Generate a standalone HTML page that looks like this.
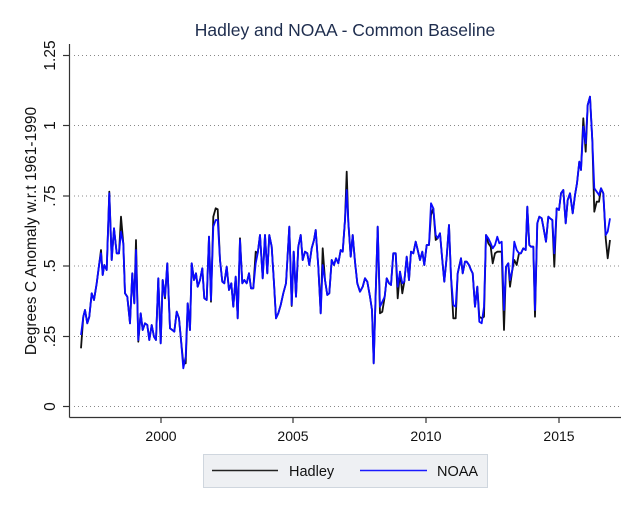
<!DOCTYPE html>
<html><head><meta charset="utf-8"><style>
html,body{margin:0;padding:0;background:#fff;}
svg{display:block;font-family:"Liberation Sans",sans-serif;}
</style></head><body>
<svg id="s" width="640" height="512" viewBox="0 0 640 512" xmlns="http://www.w3.org/2000/svg">
<rect width="640" height="512" fill="#fff"/>
<text x="345" y="36" text-anchor="middle" font-size="17.5" fill="#1e2d4e">Hadley and NOAA - Common Baseline</text>
<g stroke="#888" stroke-width="1" stroke-dasharray="1,3">
<line x1="74" x2="620" y1="55.5" y2="55.5"/>
<line x1="74" x2="620" y1="125.5" y2="125.5"/>
<line x1="74" x2="620" y1="196" y2="196"/>
<line x1="74" x2="620" y1="266" y2="266"/>
<line x1="74" x2="620" y1="336.5" y2="336.5"/>
<line x1="74" x2="620" y1="406.5" y2="406.5"/>
</g>
<g stroke="#333" stroke-width="1.2">
<line x1="69.5" x2="69.5" y1="44" y2="417.5"/>
<line x1="69.5" x2="621" y1="417.5" y2="417.5"/>
<line x1="63" x2="69.5" y1="55.5" y2="55.5"/>
<line x1="63" x2="69.5" y1="125.5" y2="125.5"/>
<line x1="63" x2="69.5" y1="196" y2="196"/>
<line x1="63" x2="69.5" y1="266" y2="266"/>
<line x1="63" x2="69.5" y1="336.5" y2="336.5"/>
<line x1="63" x2="69.5" y1="406.5" y2="406.5"/>
<line x1="161" x2="161" y1="417.5" y2="423"/>
<line x1="293" x2="293" y1="417.5" y2="423"/>
<line x1="426" x2="426" y1="417.5" y2="423"/>
<line x1="559" x2="559" y1="417.5" y2="423"/>
</g>
<g font-size="15.5" fill="#111" text-anchor="middle">
<text transform="translate(55,55.5) rotate(-90)">1.25</text>
<text transform="translate(55,125.5) rotate(-90)">1</text>
<text transform="translate(55,196) rotate(-90)">.75</text>
<text transform="translate(55,266) rotate(-90)">.5</text>
<text transform="translate(55,336.5) rotate(-90)">.25</text>
<text transform="translate(55,406.5) rotate(-90)">0</text>
<text transform="translate(36,231) rotate(-90)" font-size="15.5">Degrees C Anomaly w.r.t 1961-1990</text>
</g>
<g font-size="14" fill="#111" text-anchor="middle">
<text x="161" y="441">2000</text>
<text x="293" y="441">2005</text>
<text x="426" y="441">2010</text>
<text x="559" y="441">2015</text>
</g>
<polyline id="hb" fill="none" stroke="#111" stroke-width="1.8" stroke-linejoin="round"/>
<polyline id="nb" fill="none" stroke="#0a0aff" stroke-width="1.8" stroke-linejoin="round"/>
<rect x="203.5" y="454.5" width="284" height="33" fill="#eef0f3" stroke="#cfd6de"/>
<line x1="212" x2="278" y1="470.5" y2="470.5" stroke="#222" stroke-width="1.6"/>
<text x="289" y="476" font-size="14.5" fill="#111">Hadley</text>
<line x1="360" x2="427" y1="470.5" y2="470.5" stroke="#1a1aff" stroke-width="1.6"/>
<text x="437" y="476" font-size="14.5" fill="#111">NOAA</text>
</svg>
<script>
var segs=[
[70,150,[33,555,40,500,45,480,52,520,58,500,65,430,72,450,80,400,88,340,93,310,98,375,103,345,110,360,118,130,125,330,132,235,140,310,147,310,153,245,160,280,165,430,172,440,180,520,187,370,193,460,198,300,205,570,212,490,218,540,225,520,232,525,238,570,245,525,252,560,258,570,265,385,272,580,278,390,285,440,292,340,300,535,307,540,313,545,320,485,327,505,333,570,340,655,347,620,353,460,360,540,365,340,372,390,378,370,383,410,390,390,397,355,403,445,410,450,417,260,423,450,430,230,437,210,443,210,450,330,457,395,463,400,470,350,477,420,484,400,490,470,497,380,503,505,510,270,517,400,523,390,530,400,537,370,543,415,550,415,557,340,563,310,570,255],
{33:595,93:300,118:125,153:200,198:270,205:575,285:445,340:640,347:640,423:455,437:175,443:178,430:200,510:265,557:305}],
[260,150,[8,385,15,255,22,370,28,255,35,290,42,400,48,505,55,490,62,465,70,430,78,400,88,230,95,465,101,305,108,440,115,290,122,255,128,330,135,305,142,310,148,345,155,295,162,270,167,240,175,350,182,490,188,345,195,390,202,435,208,430,215,330,222,345,228,325,235,340,242,300,248,305,255,210,260,120,265,215,272,320,278,255,285,335,292,400,300,425,308,410,315,385,322,395,330,440,336,480,341,640,346,470,353,230,360,470,367,455,374,440,380,385,387,400,393,405,400,310,407,310,413,410,420,365,427,400,433,395,440,320,447,390,453,305,460,310,467,275,473,300,480,330,487,305,493,345,500,285,507,285,513,160,520,175,527,255,533,265,540,250,547,330,553,395,560,320,567,225,573,380,580,465,587,470,593,370],
{95:468,260:65,360:490,367:485,513:195,527:270,580:505,587:505,413:445,427:430,188:295}],
[440,80,[63,535,68,580,75,545,80,545,87,555,93,570,98,580,105,680,112,620,118,725,125,730,132,680,138,465,145,475,152,490,158,505,165,495,172,470,178,490,185,485,192,690,198,560,205,550,210,600,217,570,223,485,230,510,237,520,243,520,250,505,257,510,262,380,268,495,273,500,280,500,285,690,292,430,298,410,305,415,310,440,318,485,325,410,330,415,337,420,343,520,350,385,357,390,363,340,370,330,377,430,383,360,390,340,398,400,405,345,411,310,418,245,423,270,430,140,437,190,443,75,450,50,457,180,463,325,470,335,477,345,483,325,490,340,497,465,503,455,510,415],
{125:715,118:710,132:710,145:490,152:500,158:550,165:520,172:515,178:515,185:515,192:750,210:620,223:540,230:555,343:560,285:710,430:115,437:215,463:395,470:365,477:365,497:475,503:535,510:480}]
];
var b=[],n=[];
segs.forEach(function(s){var ox=s[0],oy=s[1],a=s[2],o=s[3];
for(var i=0;i<a.length;i+=2){var x=a[i],y=a[i+1];var px=(ox+x/3).toFixed(1);
n.push(px+","+(oy+y/3).toFixed(1));var yb=(o[x]!==undefined)?o[x]:y;b.push(px+","+(oy+yb/3).toFixed(1));}});
document.getElementById("hb").setAttribute("points",b.join(" "));
document.getElementById("nb").setAttribute("points",n.join(" "));
</script>
</body></html>
